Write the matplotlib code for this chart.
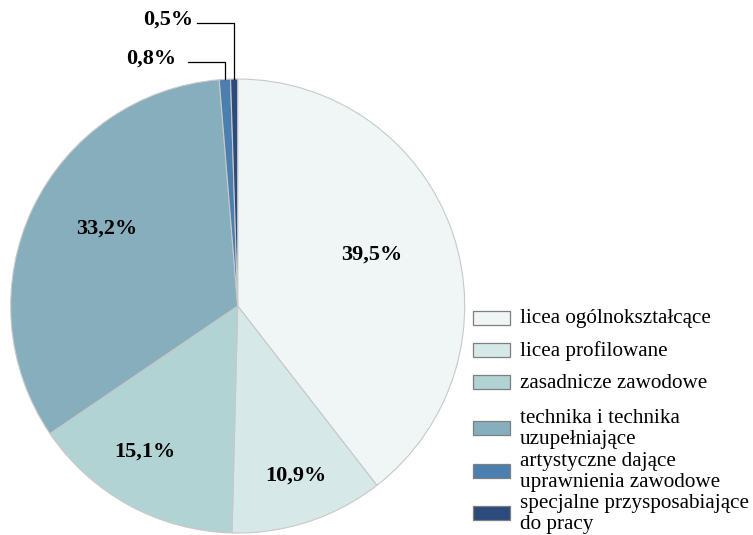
import numpy as np
import matplotlib
matplotlib.use("Agg")
import matplotlib.pyplot as plt
from matplotlib.patches import Rectangle

plt.rcParams['font.family'] = ['Liberation Serif', 'DejaVu Serif']

# udział uczniów wg typu szkoły (%)
kategorie = ['licea ogólnokształcące',
             'licea profilowane',
             'zasadnicze zawodowe',
             'technika i technika\nuzupełniające',
             'artystyczne dające\nuprawnienia zawodowe',
             'specjalne przysposabiające\ndo pracy']
udzialy = [39.5, 10.9, 15.1, 33.2, 0.8, 0.5]
kolory = ['#f0f6f6', '#d7e8e8', '#b2d3d4', '#86aebd', '#4a7fb0', '#2c4a7c']

# wymiary w pikselach (oś pokrywa cały rysunek)
W, H = 753, 535
cx, cy, R = 237.7, H - 306, 227
# etykiety wewnątrz wycinków: (promień względny, przesunięcie kąta w stopniach)
poz_etykiet = [(0.632, 1.9), (0.79, 0.7), (0.76, -3.8), (0.67, -5.2)]
odnosniki = {4: (62, 188, 176), 5: (23, 197, 193)}  # y linii, koniec linii, prawa krawędź tekstu

fig = plt.figure(figsize=(W / 100, H / 100), dpi=100)
ax = fig.add_axes([0, 0, 1, 1])

wedges, _ = ax.pie(udzialy, colors=kolory, startangle=90, counterclock=False,
                   center=(cx, cy), radius=R, frame=True,
                   wedgeprops=dict(edgecolor='#c8c8c8', linewidth=0.8))
ax.set_xlim(0, W)
ax.set_ylim(0, H)
ax.set_aspect('equal')
ax.axis('off')

def opis(v):
    return ('%.1f%%' % v).replace('.', ',')

for i, w in enumerate(wedges):
    kat = np.deg2rad((w.theta1 + w.theta2) / 2)
    if i < len(poz_etykiet):
        rr, dk = poz_etykiet[i]
        r = rr * R
        k = kat + np.deg2rad(dk)
        ax.text(cx + r * np.cos(k), cy + r * np.sin(k), opis(udzialy[i]),
                ha='center', va='center', fontsize=16, fontweight='bold')
    else:
        yl, xl, xt = odnosniki[i]
        x0 = cx + R * np.cos(kat)
        y0 = cy + R * np.sin(kat)
        ax.plot([x0, x0, xl], [y0, H - yl, H - yl], color='black', lw=0.9)
        ax.text(xt, H - yl + 3, opis(udzialy[i]), ha='right', va='center',
                fontsize=16, fontweight='bold')

# legenda
leg_y = [318, 350, 382, 428, 471, 513]
for lab, kol, y in zip(kategorie, kolory, leg_y):
    ax.add_patch(Rectangle((473, H - y - 7), 37, 14, facecolor=kol,
                           edgecolor='#7f7f7f', linewidth=0.9))
    ax.text(520, H - y - 1, lab, ha='left', va='center', fontsize=15.2,
            linespacing=1.15)

fig.savefig('out.png', dpi=100)
